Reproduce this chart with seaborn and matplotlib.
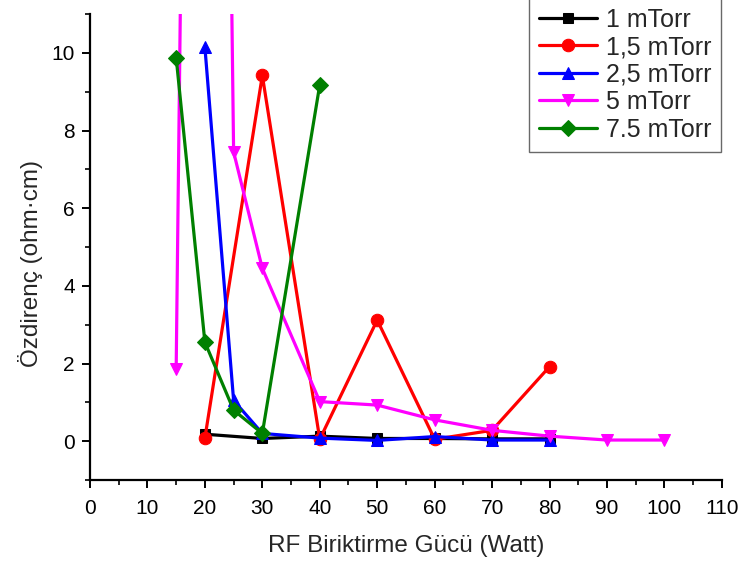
import matplotlib
matplotlib.use("Agg")
import matplotlib.pyplot as plt
import seaborn as sns
import pandas as pd
from matplotlib.ticker import MultipleLocator

# Resistivity vs. RF sputtering power for each working pressure
power_1 = [20, 30, 40, 50, 60, 70, 80]
rho_1 = [0.18, 0.07, 0.13, 0.07, 0.07, 0.06, 0.06]

power_15 = [20, 30, 40, 50, 60, 70, 80]
rho_15 = [0.08, 9.42, 0.05, 3.12, 0.05, 0.28, 1.92]

power_25 = [20, 25, 30, 40, 50, 60, 70, 80]
rho_25 = [10.15, 1.05, 0.20, 0.08, 0.02, 0.12, 0.03, 0.03]

power_5 = [15, 20, 25, 30, 40, 50, 60, 70, 80, 90, 100]
rho_5 = [1.85, 66.0, 7.45, 4.45, 1.02, 0.93, 0.55, 0.28, 0.13, 0.03, 0.03]

power_75 = [15, 20, 25, 30, 40]
rho_75 = [9.88, 2.55, 0.80, 0.20, 9.18]

labels = ["1 mTorr", "1,5 mTorr", "2,5 mTorr", "5 mTorr", "7.5 mTorr"]
colors = ["#000000", "#FF0000", "#0000FF", "#FF00FF", "#008000"]
markers = ["s", "o", "^", "v", "D"]
marker_sizes = [7, 9, 9, 9, 8]

series = [(power_1, rho_1), (power_15, rho_15), (power_25, rho_25),
          (power_5, rho_5), (power_75, rho_75)]

sns.set_style("white")
plt.rcParams["font.family"] = ["Liberation Sans", "DejaVu Sans"]

fig = plt.figure(figsize=(7.39, 5.65), dpi=100)
ax = fig.add_axes([0.1218, 0.1504, 0.855, 0.8246])

for (x, y), lab, col, mk, ms in zip(series, labels, colors, markers, marker_sizes):
    df = pd.DataFrame({"power": x, "rho": y})
    sns.lineplot(data=df, x="power", y="rho", ax=ax, color=col, marker=mk,
                 markersize=ms, markeredgecolor=col, linewidth=2.3,
                 sort=False, label=lab)

ax.set_xlim(0, 110)
ax.set_ylim(-1, 11)
ax.xaxis.set_major_locator(MultipleLocator(10))
ax.xaxis.set_minor_locator(MultipleLocator(5))
ax.yaxis.set_major_locator(MultipleLocator(2))
ax.yaxis.set_minor_locator(MultipleLocator(1))

for side in ["top", "right"]:
    ax.spines[side].set_visible(False)
for side in ["left", "bottom"]:
    ax.spines[side].set_color("black")
    ax.spines[side].set_linewidth(1.6)

ax.tick_params(which="major", direction="out", length=6, width=1.4,
               colors="black", labelsize=15, left=True, bottom=True)
ax.tick_params(axis="x", which="major", pad=8)
ax.tick_params(axis="y", which="major", pad=5)
ax.tick_params(which="minor", direction="out", length=3.5, width=1.2,
               colors="black", left=True, bottom=True)

ax.set_xlabel("RF Biriktirme Gücü (Watt)", fontsize=17.5, labelpad=12)
ax.set_ylabel("Özdirenç (ohm·cm)", fontsize=17.5, labelpad=6)
ax.yaxis.label.set_y(0.465)

leg = ax.legend(loc="upper right", bbox_to_anchor=(721 / 739, 1.004),
                bbox_transform=fig.transFigure, borderaxespad=0,
                fontsize=18, handlelength=2.3, handletextpad=0.35,
                labelspacing=0.14, borderpad=0.4, frameon=True, fancybox=False)
leg.get_frame().set_edgecolor("#444444")
leg.get_frame().set_linewidth(1.0)

fig.savefig("out.png", dpi=100)
